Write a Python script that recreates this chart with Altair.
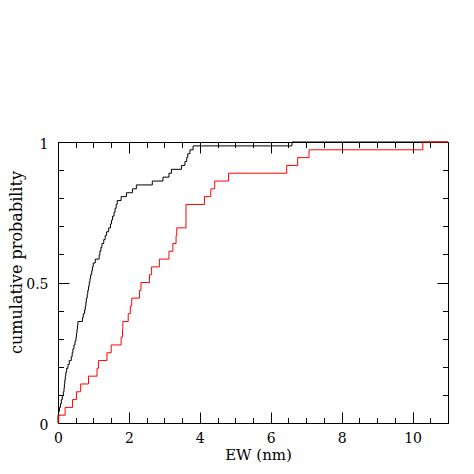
import altair as alt
import pandas as pd

# Equivalent widths (nm)
ew_black = [0.0, 0.0, 0.02, 0.04, 0.07, 0.094, 0.12, 0.15, 0.17, 0.18, 0.19, 0.206,
            0.22, 0.243, 0.28, 0.318, 0.374, 0.40, 0.42, 0.45, 0.48, 0.506,
            0.52, 0.535, 0.55, 0.562, 0.69, 0.712, 0.75, 0.77, 0.787, 0.80, 0.824,
            0.84, 0.86, 0.88, 0.90, 0.92, 0.95, 0.97, 0.993, 1.05, 1.16, 1.18,
            1.21, 1.24, 1.29, 1.33, 1.37, 1.43, 1.48, 1.51, 1.54, 1.58, 1.61,
            1.64, 1.67, 1.78, 1.93, 2.10, 2.21, 2.66, 2.96, 3.13, 3.20, 3.48,
            3.58, 3.63, 3.66, 3.72, 3.81, 6.60]
ew_red = [0.02, 0.20, 0.41, 0.52, 0.64, 0.86, 1.10, 1.14, 1.38, 1.50, 1.78, 1.82,
          1.83, 1.98, 2.04, 2.08, 2.30, 2.34, 2.58, 2.64, 2.86, 3.13, 3.24, 3.33,
          3.35, 3.61, 3.61, 3.61, 4.13, 4.31, 4.42, 4.81, 6.45, 6.76, 7.08, 10.29]
series = ["black", "red"]
series_colors = ["#000000", "#ff0000"]

x_domain = [0, 11]
y_domain = [0, 1]
x_major = [0, 2, 4, 6, 8, 10]
x_minor = [0, 0.5, 1, 1.5, 2, 2.5, 3, 3.5, 4, 4.5, 5, 5.5, 6, 6.5, 7, 7.5, 8,
           8.5, 9, 9.5, 10, 10.5, 11]
y_major = [0, 0.5, 1]
y_minor = [0, 0.1, 0.2, 0.3, 0.4, 0.5, 0.6, 0.7, 0.8, 0.9, 1]


def ecdf_rows(vals, name):
    v = sorted(vals)
    n = len(v)
    rows = [{"ew": x_domain[0], "p": 0.0, "s": name, "o": 0}]
    for i, e in enumerate(v):
        rows.append({"ew": e, "p": (i + 1) / n, "s": name, "o": i + 1})
    rows.append({"ew": x_domain[1], "p": 1.0, "s": name, "o": n + 1})
    return rows


df = pd.DataFrame(ecdf_rows(ew_black, series[0]) + ecdf_rows(ew_red, series[1]))

FONT = "DejaVu Serif"
xs = alt.Scale(domain=x_domain, nice=False, zero=False)
ys = alt.Scale(domain=y_domain, nice=False, zero=False)


def tick_axis(orient, offset, values, size):
    return alt.Axis(orient=orient, offset=offset, values=values, tickSize=size,
                    labels=False, domain=False, grid=False, title="",
                    ticks=True, tickColor="black", tickWidth=1)


x_label_axis = alt.Axis(orient="bottom", values=x_major, ticks=False, domain=False,
                        grid=False, labelFont=FONT, labelFontSize=14, labelColor="black",
                        labelPadding=8, labelFlush=False, format="d",
                        title="EW (nm)", titleFont=FONT, titleFontSize=15,
                        titleFontWeight="normal", titleColor="black",
                        titleX=200, titleY=36, titleBaseline="alphabetic", titleAlign="center")
y_label_axis = alt.Axis(orient="left", values=y_major, ticks=False, domain=False,
                        grid=False, labelFont=FONT, labelFontSize=14, labelColor="black",
                        labelPadding=10, labelFlush=False, labelBaseline="middle",
                        labelOffset=2, format=".1~f",
                        title="cumulative probability", titleFont=FONT, titleFontSize=16,
                        titleFontWeight="normal", titleColor="black",
                        titleX=-37, titleY=120, titleAngle=270,
                        titleBaseline="alphabetic", titleAlign="center")

lines = alt.Chart(df).mark_line(interpolate="step-after", strokeWidth=1).encode(
    x=alt.X("ew:Q", scale=xs, axis=x_label_axis),
    y=alt.Y("p:Q", scale=ys, axis=y_label_axis),
    color=alt.Color("s:N", scale=alt.Scale(domain=series, range=series_colors), legend=None),
    order=alt.Order("o:Q"),
)

H = 281
W = 390


def ghost(xaxis, yaxis):
    return alt.Chart(df).mark_point(opacity=0).encode(
        x=alt.X("ew:Q", scale=xs, axis=xaxis),
        y=alt.Y("p:Q", scale=ys, axis=yaxis),
    )


g1 = ghost(tick_axis("top", -H, x_major, 11), tick_axis("right", -W, y_major, 11))
g2 = ghost(tick_axis("top", -H, x_minor, 5.5), tick_axis("right", -W, y_minor, 5.5))
g3 = ghost(tick_axis("bottom", -H, x_major, 11), tick_axis("left", -W, y_major, 11))
g4 = ghost(tick_axis("bottom", -H, x_minor, 5.5), tick_axis("left", -W, y_minor, 5.5))

chart = alt.layer(lines, g1, g2, g3, g4).resolve_axis(
    x="independent", y="independent"
).properties(
    width=W, height=H,
    autosize=alt.AutoSizeParams(type="none"),
    padding={"left": 50, "top": 134, "right": 18, "bottom": 43},
).configure_view(stroke="black", strokeWidth=1)

chart.save("out.html", embed_options={"renderer": "svg", "actions": False})
